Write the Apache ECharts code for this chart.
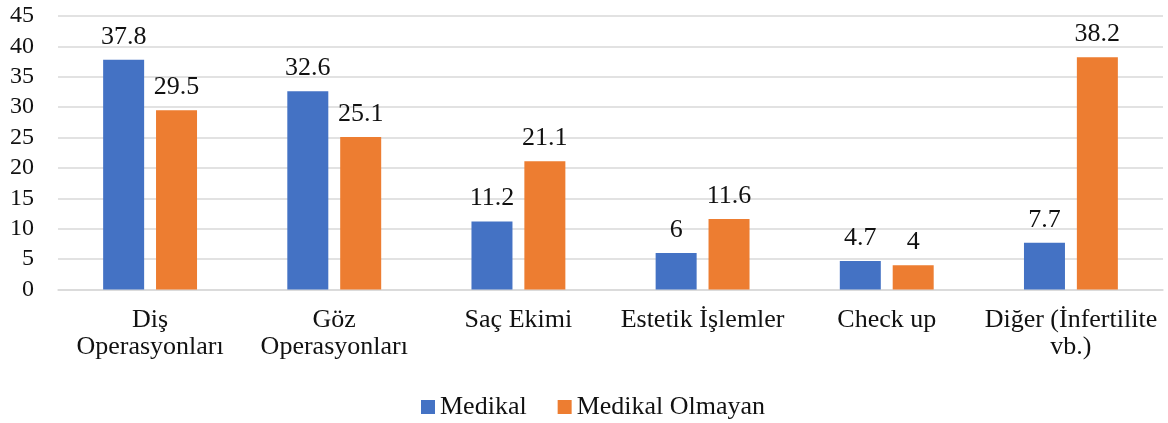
<!DOCTYPE html>
<html>
<head>
<meta charset="utf-8">
<script src="https://cdn.jsdelivr.net/npm/echarts@6/dist/echarts.min.js"></script>
<style>
  html, body { margin: 0; padding: 0; background: #fff; }
  #chart { width: 1168px; height: 423px; }
</style>
</head>
<body>
<div id="chart"></div>
<script>
const categories = [
  "Diş\nOperasyonları",
  "Göz\nOperasyonları",
  "Saç Ekimi",
  "Estetik İşlemler",
  "Check up",
  "Diğer (İnfertilite\nvb.)"
];
const medikal = [37.8, 32.6, 11.2, 6, 4.7, 7.7];
const medikalOlmayan = [29.5, 25.1, 21.1, 11.6, 4, 38.2];
const seriesNames = ["Medikal", "Medikal Olmayan"];

const font = "'Liberation Serif', 'Times New Roman', serif";
const chart = echarts.init(document.getElementById("chart"));

const valueLabel = {
  show: true,
  position: "top",
  distance: 10,
  fontFamily: font,
  fontSize: 26,
  color: "#111"
};

chart.setOption({
  animation: false,
  textStyle: { fontFamily: font },
  grid: { left: 58, right: 5, top: 16, bottom: 133.5 },
  legend: {
    data: seriesNames,
    left: 421,
    top: 394,
    padding: 0,
    itemWidth: 14,
    itemHeight: 14,
    itemGap: 31,
    icon: "rect",
    textStyle: { fontFamily: font, fontSize: 26, color: "#111" }
  },
  xAxis: {
    type: "category",
    data: categories,
    axisLine: { lineStyle: { color: "#d9d9d9", width: 1.5 } },
    axisTick: { show: false },
    axisLabel: {
      fontFamily: font,
      fontSize: 26,
      color: "#111",
      margin: 17,
      lineHeight: 27,
      interval: 0
    }
  },
  yAxis: {
    type: "value",
    min: 0,
    max: 45,
    interval: 5,
    axisLine: { show: false },
    axisTick: { show: false },
    splitLine: { lineStyle: { color: "#d9d9d9", width: 1.5 } },
    axisLabel: { fontFamily: font, fontSize: 24, color: "#111", margin: 24 }
  },
  series: [
    {
      name: seriesNames[0],
      type: "bar",
      data: medikal,
      barWidth: 41,
      barGap: "29%",
      itemStyle: { color: "#4472C4" },
      label: valueLabel
    },
    {
      name: seriesNames[1],
      type: "bar",
      data: medikalOlmayan,
      barWidth: 41,
      barGap: "29%",
      itemStyle: { color: "#ED7D31" },
      label: valueLabel
    }
  ]
});
</script>
</body>
</html>
